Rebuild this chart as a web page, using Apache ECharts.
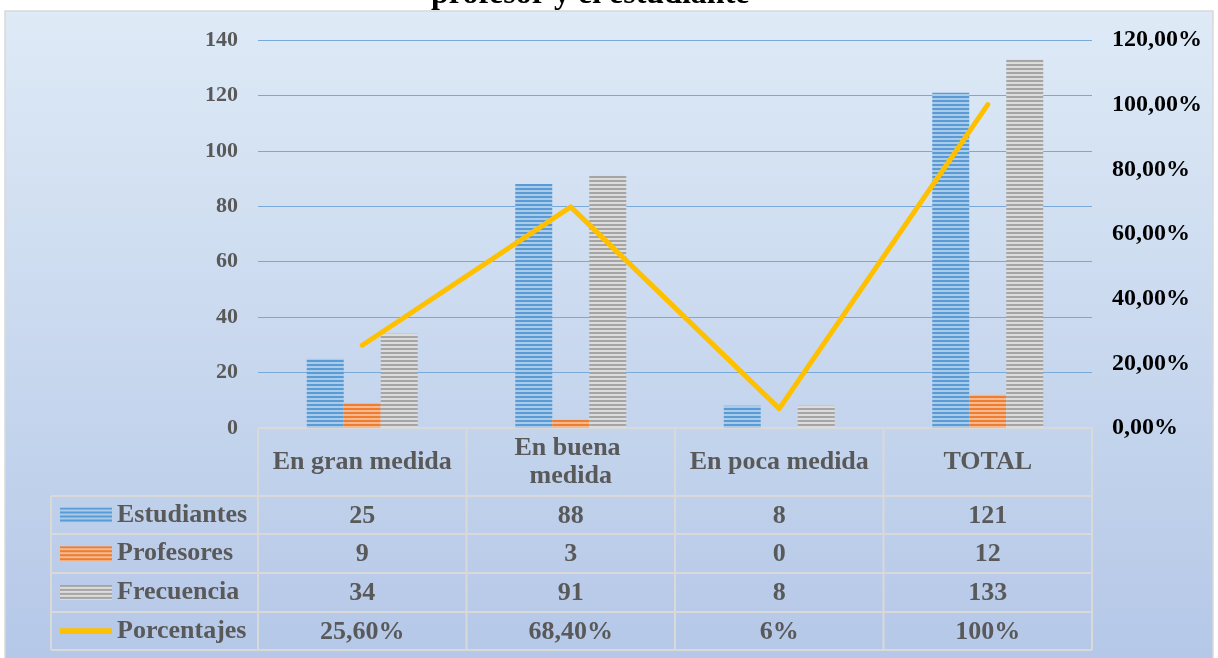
<!DOCTYPE html>
<html>
<head>
<meta charset="utf-8">
<title>ECharts</title>
<script src="https://cdn.jsdelivr.net/npm/echarts@6/dist/echarts.min.js"></script>
<style>
  html, body { margin: 0; height: 100%; background: #fff; }
  #main { width: 1218px; height: 658px; }
</style>
</head>
<body>
<div id="main"></div>
<script type="text/javascript">
// datos
var categorias = ['En gran medida', 'En buena medida', 'En poca medida', 'TOTAL'];
var estudiantes = [25, 88, 8, 121];
var profesores = [9, 3, 0, 12];
var frecuencia = [34, 91, 8, 133];
var porcentajes = [0.256, 0.684, 0.06, 1.0];
var porcentajesTxt = ['25,60%', '68,40%', '6%', '100%'];
var nombres = ['Estudiantes', 'Profesores', 'Frecuencia', 'Porcentajes'];

var FONT = '"Liberation Serif", "Times New Roman", serif';
var GRID = { left: 258, right: 126, top: 40, bottom: 230 };

// relleno rayado horizontal
function rayas(oscuro, claro) {
  var c = document.createElement('canvas');
  c.width = 4; c.height = 4;
  var ctx = c.getContext('2d');
  ctx.fillStyle = claro; ctx.fillRect(0, 0, 4, 4);
  ctx.fillStyle = oscuro; ctx.fillRect(0, 0, 4, 2);
  return { image: c, repeat: 'repeat' };
}

function pct(v) {
  return (v * 100).toFixed(2).replace('.', ',') + '%';
}

var dom = document.getElementById('main');
var myChart = echarts.init(dom);

function barra(nombre, datos, patron) {
  return {
    name: nombre,
    type: 'bar',
    data: datos,
    barWidth: 37,
    barGap: '0%',
    itemStyle: { color: patron },
    z: 2
  };
}

var option = {
  animation: false,
  backgroundColor: '#ffffff',
  title: {
    text: 'profesor y el estudiante',
    left: 431,
    top: -21,
    padding: 0,
    textStyle: { fontFamily: FONT, fontSize: 32, fontWeight: 'bold', color: '#000' }
  },
  grid: GRID,
  legend: {
    orient: 'vertical',
    left: 55,
    top: 497,
    itemWidth: 52,
    itemHeight: 15,
    itemGap: 12.7,
    icon: 'rect',
    data: [
      { name: 'Estudiantes' },
      { name: 'Profesores' },
      { name: 'Frecuencia' },
      { name: 'Porcentajes', icon: 'path://M0,0 L55,0 L55,6 L0,6 Z', itemStyle: { color: '#FFC000' } }
    ],
    textStyle: { fontFamily: FONT, fontSize: 26, lineHeight: 26, fontWeight: 'bold', color: '#595959' }
  },
  xAxis: {
    type: 'category',
    data: categorias,
    axisLine: { show: false },
    axisTick: { show: false },
    axisLabel: {
      interval: 0,
      margin: 34,
      verticalAlign: 'middle',
      width: 192,
      overflow: 'break',
      lineHeight: 28,
      fontFamily: FONT,
      fontSize: 26,
      fontWeight: 'bold',
      color: '#595959'
    }
  },
  yAxis: [
    {
      type: 'value',
      min: 0, max: 140, interval: 20,
      axisLine: { show: false },
      axisTick: { show: false },
      axisLabel: { margin: 20, fontFamily: FONT, fontSize: 22, fontWeight: 'bold', color: '#595959' },
      splitLine: { lineStyle: { color: '#78A9DB', width: 1.2 } }
    },
    {
      type: 'value',
      min: 0, max: 1.2, interval: 0.2,
      axisLine: { show: false },
      axisTick: { show: false },
      splitLine: { show: false },
      axisLabel: { margin: 20, formatter: pct, fontFamily: FONT, fontSize: 24, fontWeight: 'bold', color: '#000' }
    }
  ],
  series: [
    barra('Estudiantes', estudiantes, rayas('#5B9BD5', '#A9CCEB')),
    barra('Profesores', profesores, rayas('#ED7D31', '#F6B990')),
    barra('Frecuencia', frecuencia, rayas('#A5A5A5', '#DCDCDC')),
    {
      name: 'Porcentajes',
      type: 'line',
      yAxisIndex: 1,
      data: porcentajes,
      symbol: 'none',
      lineStyle: { color: '#FFC000', width: 5, cap: 'round', join: 'round' },
      itemStyle: { color: '#FFC000' },
      z: 3
    }
  ]
};
myChart.setOption(option);

// tabla de datos debajo del eje
var W = 1218, H = 658;
var x0 = GRID.left, x1 = W - GRID.right;
var yTop = H - GRID.bottom;
var filas = [yTop, 496, 534, 573, 612, 650];
var colW = (x1 - x0) / categorias.length;
var borde = { stroke: '#D9D9D9', lineWidth: 2 };
var g = [];

g.push({
  type: 'rect', z: -100, silent: true,
  shape: { x: 5, y: 11, width: 1208, height: 660 },
  style: {
    fill: new echarts.graphic.LinearGradient(0, 0, 0, 1, [
      { offset: 0, color: '#DEEAF6' },
      { offset: 1, color: '#B4C7E7' }
    ]),
    stroke: '#D9D9D9', lineWidth: 1.5
  }
});

// lineas horizontales
g.push({ type: 'line', z: 1, shape: { x1: x0, y1: filas[0], x2: x1, y2: filas[0] }, style: borde });
for (var r = 1; r < filas.length; r++) {
  g.push({ type: 'line', z: 1, shape: { x1: 51, y1: filas[r], x2: x1, y2: filas[r] }, style: borde });
}
// lineas verticales
g.push({ type: 'line', z: 1, shape: { x1: 51, y1: filas[1], x2: 51, y2: filas[5] }, style: borde });
for (var c = 0; c <= categorias.length; c++) {
  var xx = x0 + c * colW;
  g.push({ type: 'line', z: 1, shape: { x1: xx, y1: filas[0], x2: xx, y2: filas[5] }, style: borde });
}

var valores = [estudiantes, profesores, frecuencia, porcentajesTxt];
for (var i = 0; i < valores.length; i++) {
  for (var j = 0; j < categorias.length; j++) {
    var cx = myChart.convertToPixel({ xAxisIndex: 0 }, categorias[j]);
    g.push({
      type: 'text', z: 5,
      x: cx, y: (filas[i + 1] + filas[i + 2]) / 2 + 1,
      style: {
        text: String(valores[i][j]),
        align: 'center', verticalAlign: 'middle',
        fontFamily: FONT, fontSize: 26, fontWeight: 'bold', fill: '#595959'
      }
    });
  }
}

myChart.setOption({ graphic: g });
</script>
</body>
</html>
